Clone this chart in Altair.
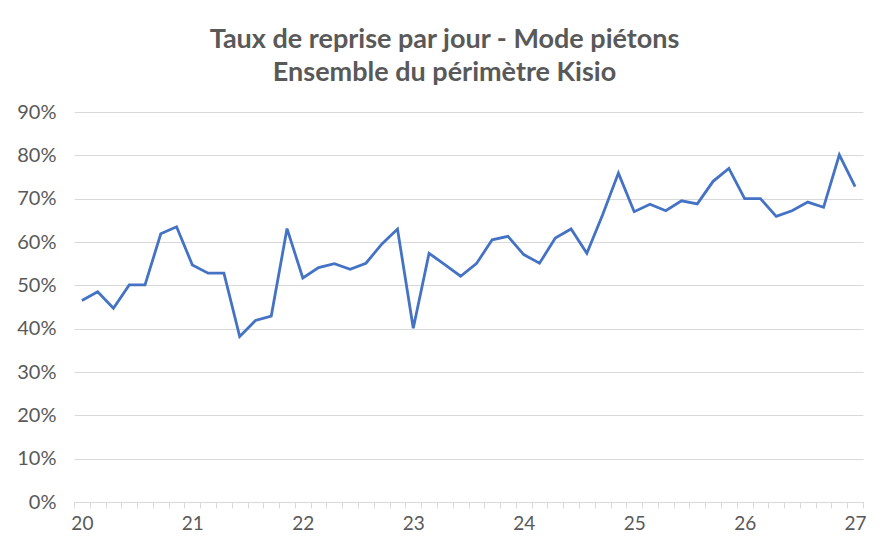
import altair as alt
import pandas as pd

title_lines = ["Taux de reprise par jour - Mode piétons", "Ensemble du périmètre Kisio"]
day_labels = ["20", "21", "22", "23", "24", "25", "26", "27"]
values = [46.5, 48.5, 44.7, 50.1, 50.1, 61.9, 63.5, 54.7, 52.8, 52.8,
          38.2, 41.9, 42.9, 63.1, 51.7, 54.1, 55.0, 53.7, 55.1, 59.5,
          63.0, 40.1, 57.4, 54.8, 52.1, 55.0, 60.5, 61.3, 57.1, 55.1,
          60.9, 63.0, 57.4, 66.3, 75.9, 67.0, 68.7, 67.2, 69.5, 68.8,
          74.0, 77.0, 70.0, 70.0, 65.9, 67.2, 69.2, 68.0, 80.1, 72.8]
y_ticks = [0, 10, 20, 30, 40, 50, 60, 70, 80, 90]

df = pd.DataFrame({"i": list(range(len(values))), "v": values})

W, H = 789, 390
n = len(values)
step = W / n
label_arr = "[" + ",".join("'" + s + "'" for s in day_labels) + "]"
label_expr = f"(datum.value + 0.5) % 7 == 0 ? {label_arr}[(datum.value + 0.5) / 7] : ''"

FONT = "Lato"
GRAY = "#595959"

chart = alt.Chart(df).mark_line(color="#4472C4", strokeWidth=2.8, strokeJoin="miter").encode(
    x=alt.X("i:Q", scale=alt.Scale(domain=[-0.5, n - 0.5], nice=False, zero=False),
            axis=alt.Axis(title=None, values=[k - 0.5 for k in range(n + 1)],
                          labelExpr=label_expr, labelOffset=step / 2,
                          labelOverlap=False, labelFontSize=19, labelColor=GRAY,
                          labelFont=FONT, labelPadding=6, tickSize=6,
                          tickColor="#d9d9d9", domainColor="#d9d9d9", grid=False,
                          labelFlush=False)),
    y=alt.Y("v:Q", scale=alt.Scale(domain=[0, 90], nice=False),
            axis=alt.Axis(title=None, values=y_ticks, labelExpr="datum.value + '%'",
                          labelFontSize=20, labelColor=GRAY, labelFont=FONT,
                          labelPadding=18, ticks=False, domain=False,
                          gridColor="#d9d9d9", gridWidth=1.2)),
).properties(
    width=W, height=H,
    autosize=alt.AutoSizeParams(type="none"),
    padding={"left": 66, "top": 104, "right": 15, "bottom": 36},
    title=alt.TitleParams(title_lines, font=FONT, fontSize=27, fontWeight="bold",
                          color=GRAY, anchor="middle", offset=15, dx=-24,
                          lineHeight=33),
).configure_view(stroke=None)

chart.save("out.html", embed_options={"renderer": "svg", "actions": False})
